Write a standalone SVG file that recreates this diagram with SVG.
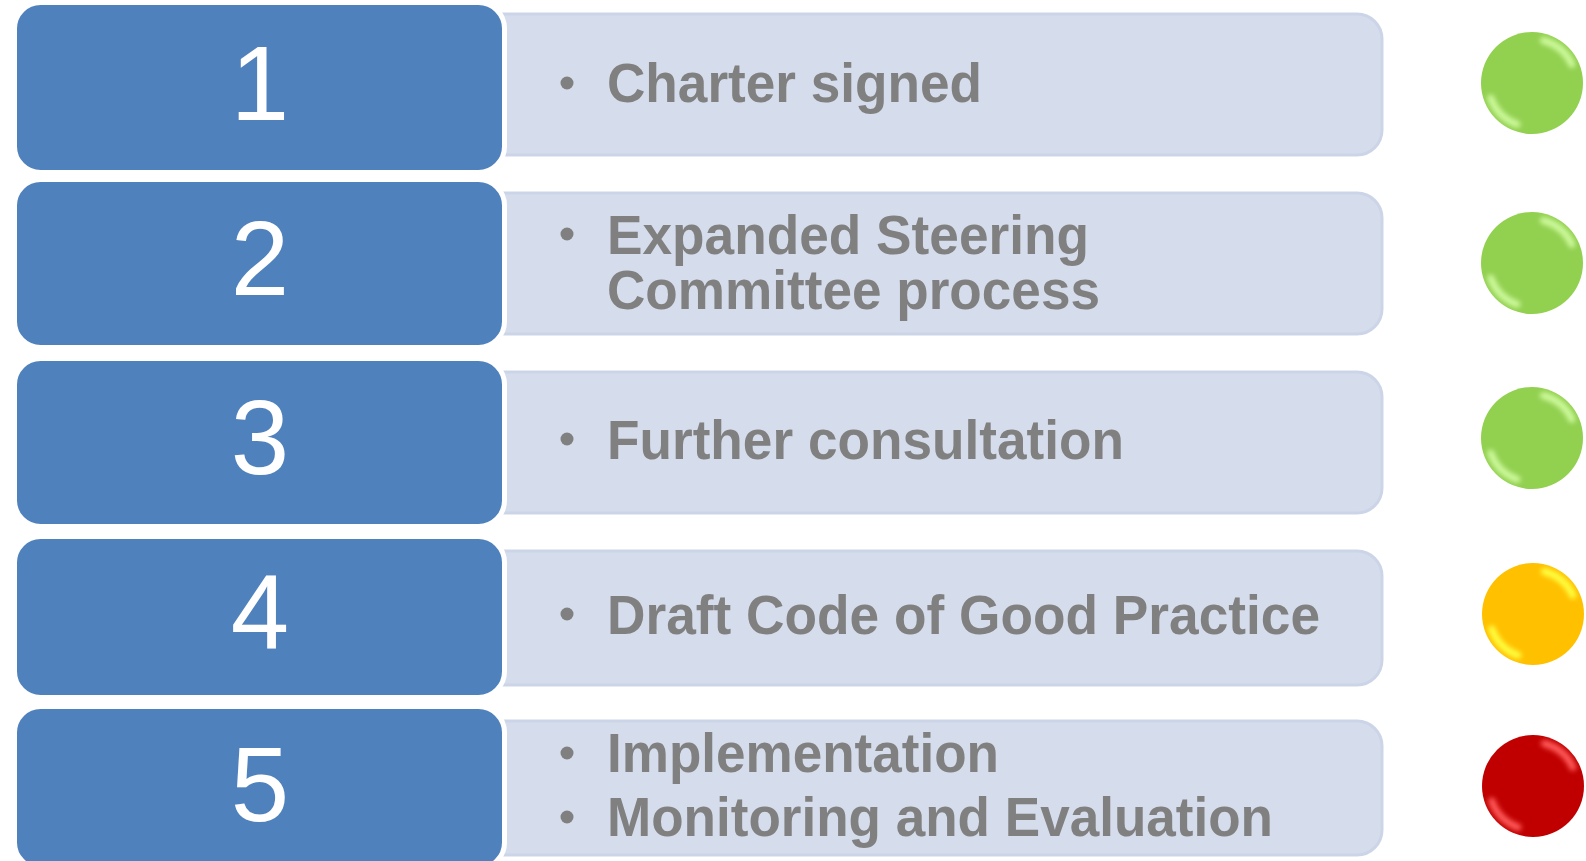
<svg xmlns="http://www.w3.org/2000/svg" width="1586" height="861" viewBox="0 0 1586 861">
  <defs>
    <style>
      .panel { fill: #D5DCEB; stroke: #CCD5E7; stroke-width: 3; }
      .step { fill: #4F81BD; stroke: #FFFFFF; stroke-width: 5; }
      .num { font-family: "Liberation Sans", Arial, sans-serif; font-size: 105px; fill: #FFFFFF; text-anchor: middle; }
      .item { font-family: "Liberation Sans", Arial, sans-serif; font-size: 56px; font-weight: bold; fill: #808080; }
      .bullet { fill: #808080; }
      .gloss { fill: none; stroke-width: 7; stroke-linecap: round; filter: url(#soft); }
    </style>
    <filter id="soft" x="-30%" y="-30%" width="160%" height="160%">
      <feGaussianBlur stdDeviation="2.4"/>
    </filter>
    <clipPath id="disc"><circle cx="0" cy="0" r="51"/></clipPath>
  </defs>

  <!-- description panels (left ends tucked under the number tiles) -->
  <g id="panels">
    <rect id="panel-1" class="panel" x="470" y="14" width="912" height="141" rx="25"/>
    <rect id="panel-2" class="panel" x="470" y="193" width="912" height="141" rx="25"/>
    <rect id="panel-3" class="panel" x="470" y="372" width="912" height="141" rx="25"/>
    <rect id="panel-4" class="panel" x="470" y="551" width="912" height="134" rx="25"/>
    <rect id="panel-5" class="panel" x="470" y="721" width="912" height="134" rx="25"/>
  </g>

  <!-- numbered step tiles -->
  <g id="step-1">
    <rect class="step" x="14.5" y="2.5" width="490" height="170" rx="26"/>
    <text class="num" x="260" y="120">1</text>
  </g>
  <g id="step-2">
    <rect class="step" x="14.5" y="179.5" width="490" height="168" rx="26"/>
    <text class="num" x="260" y="295">2</text>
  </g>
  <g id="step-3">
    <rect class="step" x="14.5" y="358.5" width="490" height="168" rx="26"/>
    <text class="num" x="260" y="474">3</text>
  </g>
  <g id="step-4">
    <rect class="step" x="14.5" y="536.5" width="490" height="161" rx="26"/>
    <text class="num" x="260" y="649">4</text>
  </g>
  <g id="step-5">
    <rect class="step" x="14.5" y="706.5" width="490" height="162" rx="26"/>
    <text class="num" x="260" y="821">5</text>
  </g>

  <!-- bullet items -->
  <g id="item-1">
    <circle class="bullet" cx="567" cy="83" r="6.5"/>
    <text class="item" x="607" y="102" textLength="375" lengthAdjust="spacingAndGlyphs">Charter signed</text>
  </g>
  <g id="item-2">
    <circle class="bullet" cx="567" cy="234" r="6.5"/>
    <text class="item" x="607" y="254" textLength="482" lengthAdjust="spacingAndGlyphs">Expanded Steering</text>
    <text class="item" x="607" y="309" textLength="493" lengthAdjust="spacingAndGlyphs">Committee process</text>
  </g>
  <g id="item-3">
    <circle class="bullet" cx="567" cy="439" r="6.5"/>
    <text class="item" x="607" y="459" textLength="517" lengthAdjust="spacingAndGlyphs">Further consultation</text>
  </g>
  <g id="item-4">
    <circle class="bullet" cx="567" cy="614" r="6.5"/>
    <text class="item" x="607" y="634" textLength="713" lengthAdjust="spacingAndGlyphs">Draft Code of Good Practice</text>
  </g>
  <g id="item-5">
    <circle class="bullet" cx="567" cy="753" r="6.5"/>
    <text class="item" x="607" y="772" textLength="392" lengthAdjust="spacingAndGlyphs">Implementation</text>
    <circle class="bullet" cx="567" cy="817" r="6.5"/>
    <text class="item" x="607" y="836" textLength="666" lengthAdjust="spacingAndGlyphs">Monitoring and Evaluation</text>
  </g>

  <!-- status lights with glossy rim highlights -->
  <g id="status-1" transform="translate(1532,83)">
    <circle r="51" fill="#92D050"/>
    <g clip-path="url(#disc)">
      <path class="gloss" stroke="#CDF99C" d="M11.4,-42.5 A44,44 0 0 1 39.9,-18.6"/>
      <path class="gloss" stroke="#CDF99C" d="M-15,41.3 A44,44 0 0 1 -41.3,15"/>
    </g>
  </g>
  <g id="status-2" transform="translate(1532,263)">
    <circle r="51" fill="#92D050"/>
    <g clip-path="url(#disc)">
      <path class="gloss" stroke="#CDF99C" d="M11.4,-42.5 A44,44 0 0 1 39.9,-18.6"/>
      <path class="gloss" stroke="#CDF99C" d="M-15,41.3 A44,44 0 0 1 -41.3,15"/>
    </g>
  </g>
  <g id="status-3" transform="translate(1532,438)">
    <circle r="51" fill="#92D050"/>
    <g clip-path="url(#disc)">
      <path class="gloss" stroke="#CDF99C" d="M11.4,-42.5 A44,44 0 0 1 39.9,-18.6"/>
      <path class="gloss" stroke="#CDF99C" d="M-15,41.3 A44,44 0 0 1 -41.3,15"/>
    </g>
  </g>
  <g id="status-4" transform="translate(1533,614)">
    <circle r="51" fill="#FFC000"/>
    <g clip-path="url(#disc)">
      <path class="gloss" stroke="#FFFF40" d="M11.4,-42.5 A44,44 0 0 1 39.9,-18.6"/>
      <path class="gloss" stroke="#FFFF40" d="M-15,41.3 A44,44 0 0 1 -41.3,15"/>
    </g>
  </g>
  <g id="status-5" transform="translate(1533,786)">
    <circle r="51" fill="#C00000"/>
    <g clip-path="url(#disc)">
      <path class="gloss" stroke="#FF5A5A" d="M11.4,-42.5 A44,44 0 0 1 39.9,-18.6"/>
      <path class="gloss" stroke="#FF5A5A" d="M-15,41.3 A44,44 0 0 1 -41.3,15"/>
    </g>
  </g>

  <g id="connectors"/>
</svg>
